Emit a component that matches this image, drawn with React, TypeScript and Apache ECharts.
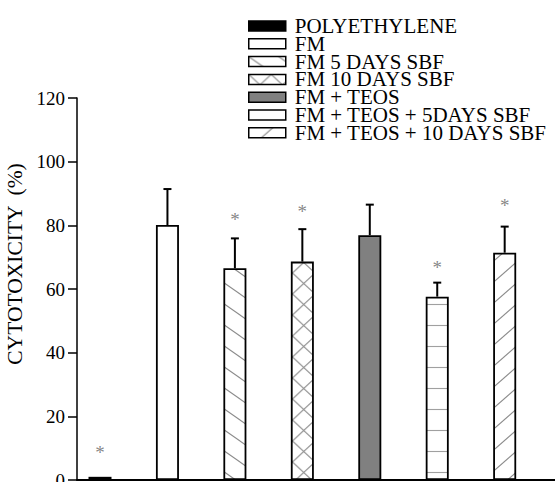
import React, { useEffect, useRef } from "react";
import * as echarts from "echarts";

const categories = [
  "POLYETHYLENE",
  "FM",
  "FM 5 DAYS SBF",
  "FM 10 DAYS SBF",
  "FM + TEOS",
  "FM + TEOS + 5DAYS SBF",
  "FM + TEOS + 10 DAYS SBF",
];
const means = [1, 80.1, 66.5, 68.6, 76.9, 57.6, 71.4];
const errTop = [1, 91.4, 75.9, 78.8, 86.5, 62.0, 79.6];
const starAt: (number | null)[] = [9.8, null, 83.0, 85.7, null, 68.1, 87.4];
const yTicks = [0, 20, 40, 60, 80, 100, 120];

const FONT = "'Liberation Serif', 'Times New Roman', serif";

function tile(w: number, h: number, body: string) {
  const svg = `<svg xmlns="http://www.w3.org/2000/svg" width="${w}" height="${h}">${body}</svg>`;
  return {
    image: "data:image/svg+xml;charset=utf-8," + encodeURIComponent(svg),
    repeat: "repeat",
    imageWidth: w,
    imageHeight: h,
  };
}
const ln = (x1: number, y1: number, x2: number, y2: number, c = "#8a8a8a") =>
  `<line x1="${x1}" y1="${y1}" x2="${x2}" y2="${y2}" stroke="${c}" stroke-width="1.1"/>`;

function backSlash(w: number, h: number) {
  return tile(
    w,
    h,
    `<rect width="${w}" height="${h}" fill="#fff"/>` +
      ln(0, 0, w, h) +
      ln(-w, 0, 0, h) +
      ln(w, 0, 2 * w, h) +
      ln(0, -h, w, 0) +
      ln(0, h, w, 2 * h)
  );
}
function slash(w: number, h: number) {
  return tile(
    w,
    h,
    `<rect width="${w}" height="${h}" fill="#fff"/>` +
      ln(0, h, w, 0) +
      ln(-w, h, 0, 0) +
      ln(w, h, 2 * w, 0) +
      ln(0, 0, w, -h) +
      ln(0, 2 * h, w, h)
  );
}
function cross(w: number, h: number) {
  return tile(
    w,
    h,
    `<rect width="${w}" height="${h}" fill="#fff"/>` + ln(0, 0, w, h) + ln(0, h, w, 0)
  );
}
function horiz(w: number, h: number) {
  return tile(w, h, `<rect width="${w}" height="${h}" fill="#fff"/>` + ln(-1, h / 2, w + 1, h / 2, "#a0a0a0"));
}

const fills: any[] = [
  "#000",
  "#fff",
  backSlash(30, 21),
  { ...cross(22.5, 21), x: 2 },
  "#808080",
  { ...horiz(10, 21), y: 3 },
  slash(24, 21),
];

export default function App() {
  const ref = useRef<HTMLDivElement>(null);
  useEffect(() => {
    if (!ref.current) return;
    const chart = echarts.init(ref.current, undefined, { renderer: "svg" });
    const barSeries = categories.map((name, i) => ({
      name,
      type: "bar",
      data: [[i, means[i]]],
      barWidth: 23,
      barGap: "-100%",
      itemStyle: { color: fills[i], borderColor: "#000", borderWidth: 1.8 },
      z: 2,
    }));
    chart.setOption({
      animation: false,
      grid: { left: 77, right: 0, top: 98, bottom: 2, outerBoundsMode: "none", containLabel: false },
      legend: {
        orient: "vertical",
        left: 248,
        top: 15.5,
        padding: 0,
        itemWidth: 37,
        itemHeight: 10,
        itemGap: -3.2,
        icon: "rect",
        selectedMode: false,
        data: categories,
        itemStyle: { borderColor: "#000", borderWidth: 1.5 },
        textStyle: { fontFamily: FONT, fontSize: 21, color: "#000", padding: [0, 0, 0, 4] },
      },
      xAxis: {
        type: "value",
        min: -0.341,
        max: 6.746,
        axisLine: { show: true, onZero: false, lineStyle: { color: "#000", width: 2 } },
        axisTick: { show: false },
        axisLabel: { show: false },
        splitLine: { show: false },
      },
      yAxis: {
        type: "value",
        min: 0,
        max: 120,
        interval: 20,
        name: "CYTOTOXICITY  (%)",
        nameLocation: "middle",
        nameGap: 44,
        nameTextStyle: { fontFamily: FONT, fontSize: 21.5, color: "#000", padding: [0, 0, 0, 50] },
        axisLine: { show: true, onZero: false, lineStyle: { color: "#000", width: 1.5 } },
        axisTick: { show: true, inside: false, length: 9, lineStyle: { color: "#000", width: 1.5 } },
        axisLabel: {
          fontFamily: FONT,
          fontSize: 19,
          color: "#000",
          margin: 12,
          formatter: (v: number) => (yTicks.includes(v) ? String(v) : ""),
        },
        splitLine: { show: false },
      },
      series: [
        ...barSeries,
        {
          name: "err",
          type: "custom",
          z: 3,
          data: means.map((m, i) => [i, m, errTop[i]]),
          renderItem: (_p: any, api: any) => {
            const x = api.value(0);
            const lo = api.value(1);
            const hi = api.value(2);
            if (hi <= lo) return { type: "group", children: [] };
            const a = api.coord([x, lo]);
            const b = api.coord([x, hi]);
            const cw = 4;
            const st = { stroke: "#000", lineWidth: 2 };
            return {
              type: "group",
              children: [
                { type: "line", shape: { x1: a[0], y1: a[1], x2: b[0], y2: b[1] }, style: st },
                { type: "line", shape: { x1: b[0] - cw, y1: b[1], x2: b[0] + cw, y2: b[1] }, style: st },
              ],
            };
          },
        },
        {
          name: "stars",
          type: "scatter",
          symbolSize: 0,
          z: 4,
          data: starAt.map((s, i) => (s == null ? null : [i, s])).filter((d) => d),
          label: {
            show: true,
            position: "inside",
            formatter: "*",
            fontFamily: FONT,
            fontSize: 19,
            color: "#666",
            offset: [0, 4],
          },
        },
      ],
    });
    return () => chart.dispose();
  }, []);
  return (
    <div
      ref={ref}
      style={{ position: "fixed", left: 0, top: 0, width: 555, height: 482, background: "#fff" }}
    />
  );
}
